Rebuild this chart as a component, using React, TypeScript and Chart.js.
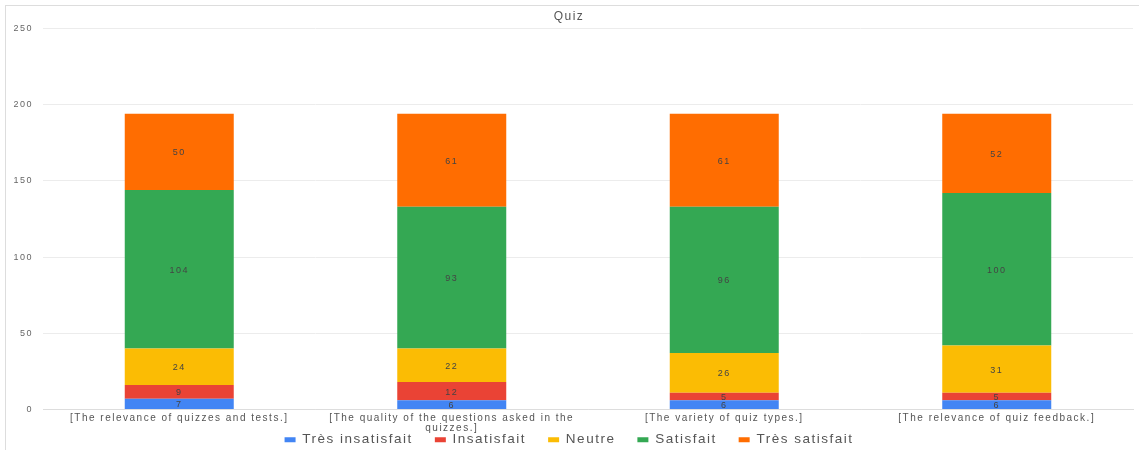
import React, { useEffect, useRef } from "react";
import { Chart, registerables } from "chart.js";

Chart.register(...registerables);

const categories: (string | string[])[] = [
  "[The relevance of quizzes and tests.]",
  ["[The quality of the questions asked in the", "quizzes.]"],
  "[The variety of quiz types.]",
  "[The relevance of quiz feedback.]",
];
const tresInsatisfait = [7, 6, 6, 6];
const insatisfait = [9, 12, 5, 5];
const neutre = [24, 22, 26, 31];
const satisfait = [104, 93, 96, 100];
const tresSatisfait = [50, 61, 61, 52];
const yTicks = [0, 50, 100, 150, 200, 250];

const FONT = "'Liberation Sans', Arial, sans-serif";
const SPACING = "1.5px";

const spacing = {
  id: "spacing",
  beforeUpdate(chart: any) {
    chart.ctx.letterSpacing = SPACING;
  },
  beforeDraw(chart: any) {
    chart.ctx.letterSpacing = SPACING;
  },
};

const barLabels = {
  id: "barLabels",
  afterDatasetsDraw(chart: any) {
    const ctx = chart.ctx;
    ctx.save();
    ctx.font = `9px ${FONT}`;
    ctx.fillStyle = "#444";
    ctx.textAlign = "center";
    ctx.textBaseline = "middle";
    chart.data.datasets.forEach((ds: any, i: number) => {
      const meta = chart.getDatasetMeta(i);
      meta.data.forEach((bar: any, j: number) => {
        const v = ds.data[j];
        const top = Math.min(bar.y, bar.base);
        const bot = Math.max(bar.y, bar.base);
        ctx.fillText(String(v), bar.x, (top + bot) / 2 + 1);
      });
    });
    ctx.restore();
  },
};

export default function App() {
  const ref = useRef<HTMLCanvasElement>(null);
  useEffect(() => {
    document.body.style.margin = "0";
    const mk = (label: string, data: number[], color: string) => ({
      label,
      data,
      backgroundColor: color,
      borderWidth: 0,
      categoryPercentage: 1,
      barPercentage: 0.4,
    });
    const chart = new Chart(ref.current!, {
      type: "bar",
      data: {
        labels: categories as any,
        datasets: [
          mk("Très insatisfait", tresInsatisfait, "#4285F4"),
          mk("Insatisfait", insatisfait, "#EA4335"),
          mk("Neutre", neutre, "#FBBC04"),
          mk("Satisfait", satisfait, "#34A853"),
          mk("Très satisfait", tresSatisfait, "#FF6D01"),
        ],
      },
      options: {
        animation: false,
        responsive: false,
        maintainAspectRatio: false,
        layout: { padding: { left: 5, right: 6, top: 4, bottom: -6.5 } },
        plugins: {
          title: {
            display: true,
            text: "Quiz",
            color: "#555",
            font: { family: FONT, size: 12, weight: "normal" as any },
            padding: { top: 5, bottom: 5 },
          },
          legend: {
            position: "bottom",
            labels: {
              boxWidth: 11,
              boxHeight: 5,
              color: "#555",
              font: { family: FONT, size: 13.5 },
              padding: 22,
            },
          },
          tooltip: { enabled: false },
        },
        scales: {
          x: {
            stacked: true,
            grid: { display: false, drawTicks: false },
            border: { color: "#ddd" },
            afterFit: (s: any) => {
              s.height = 1.5;
              s._computeLabelArea = () => undefined;
            },
            ticks: {
              color: "#555",
              font: { family: FONT, size: 10, lineHeight: 1.0 },
              maxRotation: 0,
              autoSkip: false,
              padding: 4,
            },
          },
          y: {
            stacked: true,
            min: 0,
            max: 250,
            afterBuildTicks: (s: any) => {
              s.ticks = yTicks.map((v) => ({ value: v }));
            },
            afterFit: (s: any) => {
              s.width = 38;
            },
            grid: { color: "#ececec", drawTicks: false },
            border: { display: false },
            ticks: {
              color: "#666",
              font: { family: FONT, size: 9 },
              padding: 10,
            },
          },
        },
      },
      plugins: [spacing, barLabels],
    });
    return () => chart.destroy();
  }, []);
  return (
    <div
      style={{
        position: "relative",
        width: 1139,
        height: 450,
        boxSizing: "border-box",
      }}
    >
      <div
        style={{
          position: "absolute",
          left: 5,
          top: 5,
          right: 0,
          bottom: 0,
          borderLeft: "1px solid #ddd",
          borderTop: "1px solid #ddd",
          pointerEvents: "none",
        }}
      />
      <canvas ref={ref} width={1139} height={450} style={{ display: "block" }} />
    </div>
  );
}
